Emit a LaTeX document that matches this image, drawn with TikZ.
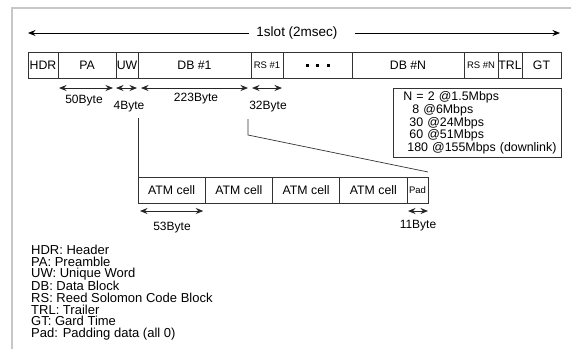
\documentclass[tikz,border=0pt]{standalone}
\usepackage{fontspec}
\setmainfont{Liberation Sans}
\usetikzlibrary{arrows.meta,positioning}
\tikzset{
  fld/.style={draw=black!80,line width=.8pt,minimum height=26pt,inner sep=0pt,outer sep=0pt,font=\fontsize{12.3}{14}\selectfont},
  small/.style={font=\fontsize{9.5}{11}\selectfont},
  dim/.style={<->,line width=.8pt,black!85},
  lbl/.style={font=\fontsize{12}{14}\selectfont,inner sep=0pt},
  link/.style={line width=.7pt,black!80},
}
\begin{document}
\begin{tikzpicture}[x=1pt,y=-1pt,>={Stealth[length=7.5pt,width=6pt]}]
    \useasboundingbox (0,0) rectangle (571,349);
    \draw[black!22,line width=1.5pt](12,349)--(12,8)--(571,8);
    % one slot
    \node[font=\fontsize{13.5}{15}\selectfont,inner xsep=7pt](slot) at (297,33){1slot (2msec)};
    \coordinate (sl) at (28,33);
    \coordinate (sr) at (560,33);
    \draw[->,line width=.8pt](slot.west)--(sl);
    \draw[->,line width=.8pt]([xshift=10pt]slot.east)--(sr);
    % frame fields
    \node[fld,minimum width=30pt,anchor=north west](hdr) at (28,52){HDR};
    \node[fld,minimum width=58pt,right=0pt of hdr](pa){PA};
    \node[fld,minimum width=22pt,right=0pt of pa](uw){UW};
    \node[fld,minimum width=113pt,right=0pt of uw](db1){DB \#1};
    \node[fld,small,minimum width=32pt,right=0pt of db1](rs1){RS \#1};
    \node[fld,minimum width=69pt,right=0pt of rs1](dots){\rule{3pt}{3pt}\hspace{7.5pt}\rule{3pt}{3pt}\hspace{7.5pt}\rule{3pt}{3pt}};
    \node[fld,minimum width=112pt,right=0pt of dots](dbn){DB \#N};
    \node[fld,small,minimum width=34pt,right=0pt of dbn](rsn){RS \#N};
    \node[fld,minimum width=24pt,right=0pt of rsn](trl){TRL};
    \node[fld,minimum width=39pt,right=0pt of trl](gt){GT};
    % byte counts
    \draw[dim]([xshift=1pt,yshift=-10pt]pa.south west)--([xshift=-3pt,yshift=-10pt]pa.south east);
    \draw[dim]([yshift=-10pt]uw.south west)--([xshift=-1pt,yshift=-10pt]uw.south east);
    \draw[dim]([xshift=3pt,yshift=-10pt]db1.south west)--([xshift=-3pt,yshift=-10pt]db1.south east);
    \draw[dim]([xshift=1pt,yshift=-10pt]rs1.south west)--([xshift=-1pt,yshift=-10pt]rs1.south east);
    \node[lbl](bpa) at (84,101){50Byte};
    \node[lbl](buw) at (129,107){4Byte};
    \node[lbl](bdb) at (196,99){223Byte};
    \node[lbl](brs) at (268,107){32Byte};
    % number of data blocks
    \node[draw=black!80,line width=.8pt,anchor=north west,minimum width=168pt,minimum height=69pt,
        text width=160pt,inner xsep=4pt,align=left,font=\fontsize{12.4}{10.6}\selectfont](rates) at (393,88){
        \hspace*{6pt}N = 2 @1.5Mbps\\
        \hspace*{15pt}8 @6Mbps\\
        \hspace*{12pt}30 @24Mbps\\
        \hspace*{12pt}60 @51Mbps\\
        \hspace*{10pt}180 @155Mbps (downlink)};
    % data block as ATM cells
    \foreach \i in {1,...,4}{
        \node[fld,minimum width=67.25pt,anchor=north west](atm\i) at ({138+67.25*(\i-1)},177){ATM cell};
    }
    \node[fld,small,minimum width=21pt,right=0pt of atm4](pad){Pad};
    \coordinate (ca) at (138,118);
    \coordinate (cb) at (248,119);
    \coordinate (cc) at (248,135);
    \draw[link](ca)--(atm1.north west);
    \draw[link](cb)--(cc)--([yshift=5pt]pad.north east);
    \draw[dim]([xshift=2pt,yshift=-8pt]atm1.south west)--([xshift=-2pt,yshift=-8pt]atm1.south east);
    \draw[dim]([xshift=1pt,yshift=-8pt]pad.south west)--([yshift=-8pt]pad.south east);
    \node[lbl](batm) at (172,228){53Byte};
    \node[lbl](bpad) at (418,226){11Byte};
    % legend
    \node[anchor=north west,inner sep=0pt,align=left,font=\fontsize{13}{11.6}\selectfont](legend) at (31,245){
        HDR: Header\\
        PA: Preamble\\
        UW: Unique Word\\
        DB: Data Block\\
        RS: Reed Solomon Code Block\\
        TRL: Trailer\\
        GT: Gard Time\\
        Pad: Padding data (all 0)};
\end{tikzpicture}
\end{document}
